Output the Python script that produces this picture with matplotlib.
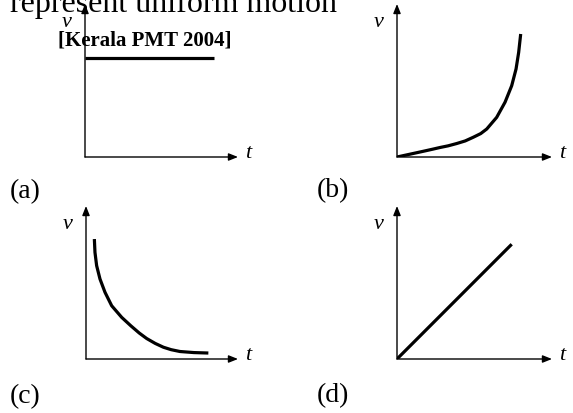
import matplotlib
matplotlib.use("Agg")
import matplotlib.pyplot as plt

plt.rcParams['font.family'] = ['Liberation Serif', 'DejaVu Serif']

# donnees (t, v) pour chaque graphe
t_a = [0.0, 8.4]
v_a = [6.5, 6.5]

t_b = [0.0, 1.0, 1.68, 2.3, 2.77, 3.3, 3.85, 4.4, 4.92, 5.4, 5.79, 6.43, 6.97, 7.40, 7.68, 7.85, 7.98]
v_b = [0.0, 0.22, 0.37, 0.51, 0.62, 0.73, 0.88, 1.05, 1.29, 1.53, 1.83, 2.59, 3.58, 4.66, 5.75, 6.84, 8.04]

t_c = [0.55, 0.59, 0.70, 0.92, 1.25, 1.69, 2.35, 2.95, 3.5, 3.99, 4.55, 5.09, 5.6, 6.18, 7.1, 8.05]
v_c = [7.84, 6.97, 6.10, 5.23, 4.36, 3.48, 2.72, 2.17, 1.70, 1.34, 1.02, 0.77, 0.61, 0.49, 0.42, 0.39]

t_d = [0.0, 7.4]
v_d = [0.0, 7.5]

panel_labels = ['(a)', '(b)', '(c)', '(d)']

W, H = 573, 414
fig = plt.figure(figsize=(W / 100, H / 100), dpi=100)

# position des axes en pixels (gauche, haut, largeur, hauteur)
boites = [(85, 5, 153, 153), (397, 5, 155, 153),
          (86, 207, 152, 153), (397, 207, 155, 153)]
courbes = [(t_a, v_a), (t_b, v_b), (t_c, v_c), (t_d, v_d)]

for (g, h, lw_, ht), (tt, vv) in zip(boites, courbes):
    ax = fig.add_axes([g / W, 1 - (h + ht) / H, lw_ / W, ht / H])
    ax.set_xlim(0, 10)
    ax.set_ylim(0, 10)
    ax.axis('off')
    # courbe
    ax.plot(tt, vv, color='black', lw=2.3, solid_capstyle='butt',
            solid_joinstyle='round')
    # axes avec fleches
    fl = dict(arrowstyle='-|>,head_length=0.55,head_width=0.22',
              color='black', lw=1.0, shrinkA=0, shrinkB=0)
    ax.annotate('', xy=(1, 0), xytext=(0, 0), xycoords='axes fraction',
                arrowprops=fl)
    ax.annotate('', xy=(0, 1), xytext=(0, 0), xycoords='axes fraction',
                arrowprops=fl)
    ax.text(-0.12, 0.885, 'v', transform=ax.transAxes, fontsize=16,
            style='italic', ha='center', va='center')
    ax.text(1.065, 0.03, 't', transform=ax.transAxes, fontsize=16,
            style='italic', ha='center', va='center')

fig.text(10 / W, 1 - 12 / H, 'represent uniform motion', fontsize=23,
         ha='left', va='baseline')
fig.text(145 / W, 1 - 46 / H, '[Kerala PMT 2004]', fontsize=15,
         fontweight='bold', ha='center', va='baseline')

pos_lab = [(10, 198), (317, 197), (10, 403), (317, 402)]
for lab, (x, y) in zip(panel_labels, pos_lab):
    fig.text(x / W, 1 - y / H, lab, fontsize=20, ha='left', va='baseline')

fig.savefig('out.png', dpi=100)
